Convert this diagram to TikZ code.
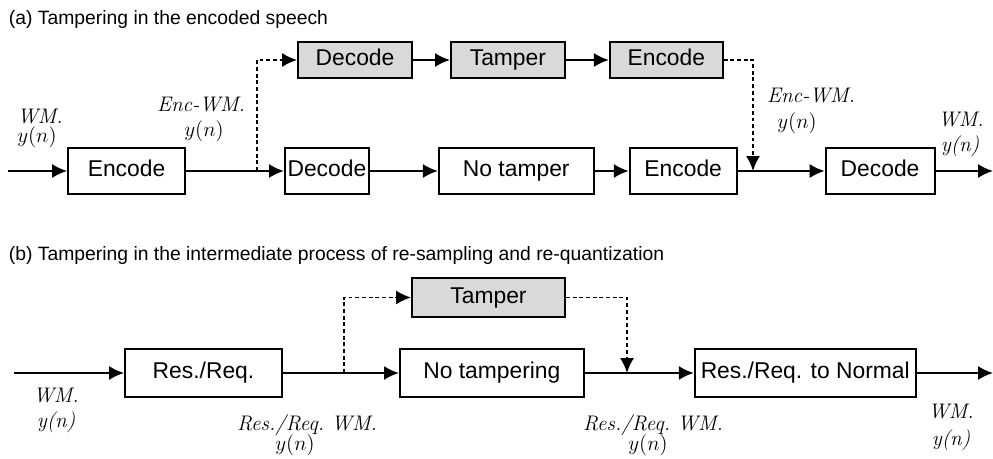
\documentclass[tikz,border=0pt]{standalone}
\usepackage{fontspec}
\setsansfont{Liberation Sans}
\usetikzlibrary{arrows.meta,positioning}

\begin{document}
\begin{tikzpicture}[x=0.02cm, y=-0.02cm, >={Latex[length=8.5pt,width=8pt]}, line width=1.1pt]
		 \tikzstyle{blk} = [draw, minimum height=0.92cm, inner sep=0pt, text height=9.4pt, text depth=2.8pt, font=\sffamily\fontsize{13}{15}\selectfont]
		 \tikzstyle{tbk} = [blk, fill=black!15, minimum height=0.72cm]
		 \tikzstyle{sig} = [font=\itshape\fontsize{12}{14}\selectfont, anchor=base, inner sep=0pt]
		 \tikzstyle{ttl} = [font=\sffamily\fontsize{11}{13}\selectfont, anchor=base west, inner sep=0pt]
		 \tikzstyle{dotln} = [dash pattern=on 2.2pt off 1.6pt]

		 \useasboundingbox (0,0) rectangle (993,459);

		 % (a) encoded speech
		 \node [ttl] (ta) at (8,25) {(a) Tampering in the encoded speech};

		 \node [blk, minimum width=2.34cm] (encA) at (126.5,171) {Encode};
		 \node [blk, minimum width=1.68cm] (decA) [right=1.96cm of encA] {Decode};
		 \node [blk, minimum width=3.10cm] (notA) [right=1.36cm of decA] {No tamper};
		 \node [blk, minimum width=2.14cm] (encB) [right=0.68cm of notA] {Encode};
		 \node [blk, minimum width=2.18cm] (decB) [right=1.74cm of encB] {Decode};

		 \node [tbk, minimum width=2.28cm] (udec) at (355,60) {Decode};
		 \node [tbk, minimum width=2.28cm] (utam) [right=0.74cm of udec] {Tamper};
		 \node [tbk, minimum width=2.26cm] (uenc) [right=0.86cm of utam] {Encode};

		 \coordinate (inA) at (8,171);
		 \coordinate (jA) at (257,171);
		 \coordinate (kA) at (753,171);
		 \coordinate (outA) at (993,171);

		 \draw [->] (inA) -- (encA);
		 \draw [->] (encA) -- (decA);
		 \draw [->] (decA) -- (notA);
		 \draw [->] (notA) -- (encB);
		 \draw [->] (encB) -- (decB);
		 \draw [->] (decB) -- (outA);
		 \draw [->] (udec) -- (utam);
		 \draw [->] (utam) -- (uenc);
		 \draw [->, dotln] (jA) |- (udec);
		 \draw [->, dotln] (uenc) -| (kA);

		 \node [sig] (la1) at (40,124) {WM.};
		 \node [sig] (la2) at (37,143) {$y(n)$};
		 \node [sig] (lb1) at (201,112) {Enc-WM.};
		 \node [sig] (lb2) at (204,137) {$y(n)$};
		 \node [sig] (lc1) at (811,103) {Enc-WM.};
		 \node [sig] (lc2) at (797,129) {$y(n)$};
		 \node [sig] (ld1) at (961,127) {WM.};
		 \node [sig] (ld2) at (960,152) {y(n)};

		 % (b) re-sampling and re-quantization
		 \node [ttl] (tb) at (8,260) {(b) Tampering in the intermediate process of re-sampling and re-quantization};

		 \node [blk, minimum width=3.14cm, minimum height=0.96cm] (resA) at (203.5,373) {Res./Req.};
		 \node [blk, minimum width=3.68cm, minimum height=0.96cm] (notB) [right=2.32cm of resA] {No tampering};
		 \node [blk, minimum width=4.42cm, minimum height=0.96cm] (resN) [right=2.18cm of notB] {Res./Req. to Normal};
		 \node [tbk, minimum width=3.06cm, minimum height=0.78cm] (tamB) at (488.5,297.5) {Tamper};

		 \coordinate (inB) at (14,373);
		 \coordinate (jB) at (344,373);
		 \coordinate (kB) at (627,373);
		 \coordinate (outB) at (993,373);

		 \draw [->] (inB) -- (resA);
		 \draw [->] (resA) -- (notB);
		 \draw [->] (notB) -- (resN);
		 \draw [->] (resN) -- (outB);
		 \draw [->, dotln] (jB) |- (tamB);
		 \draw [->, dotln] (tamB) -| (kB);

		 \node [sig] (le1) at (56,402) {WM.};
		 \node [sig] (le2) at (56,427) {y(n)};
		 \node [sig] (lf1) at (307,430) {Res./Req.\ WM.};
		 \node [sig] (lf2) at (295,450) {$y(n)$};
		 \node [sig] (lg1) at (653,430) {Res./Req.\ WM.};
		 \node [sig] (lg2) at (648,450) {$y(n)$};
		 \node [sig] (lh1) at (951,418) {WM.};
		 \node [sig] (lh2) at (951,445) {y(n)};
	\end{tikzpicture}
\end{document}
